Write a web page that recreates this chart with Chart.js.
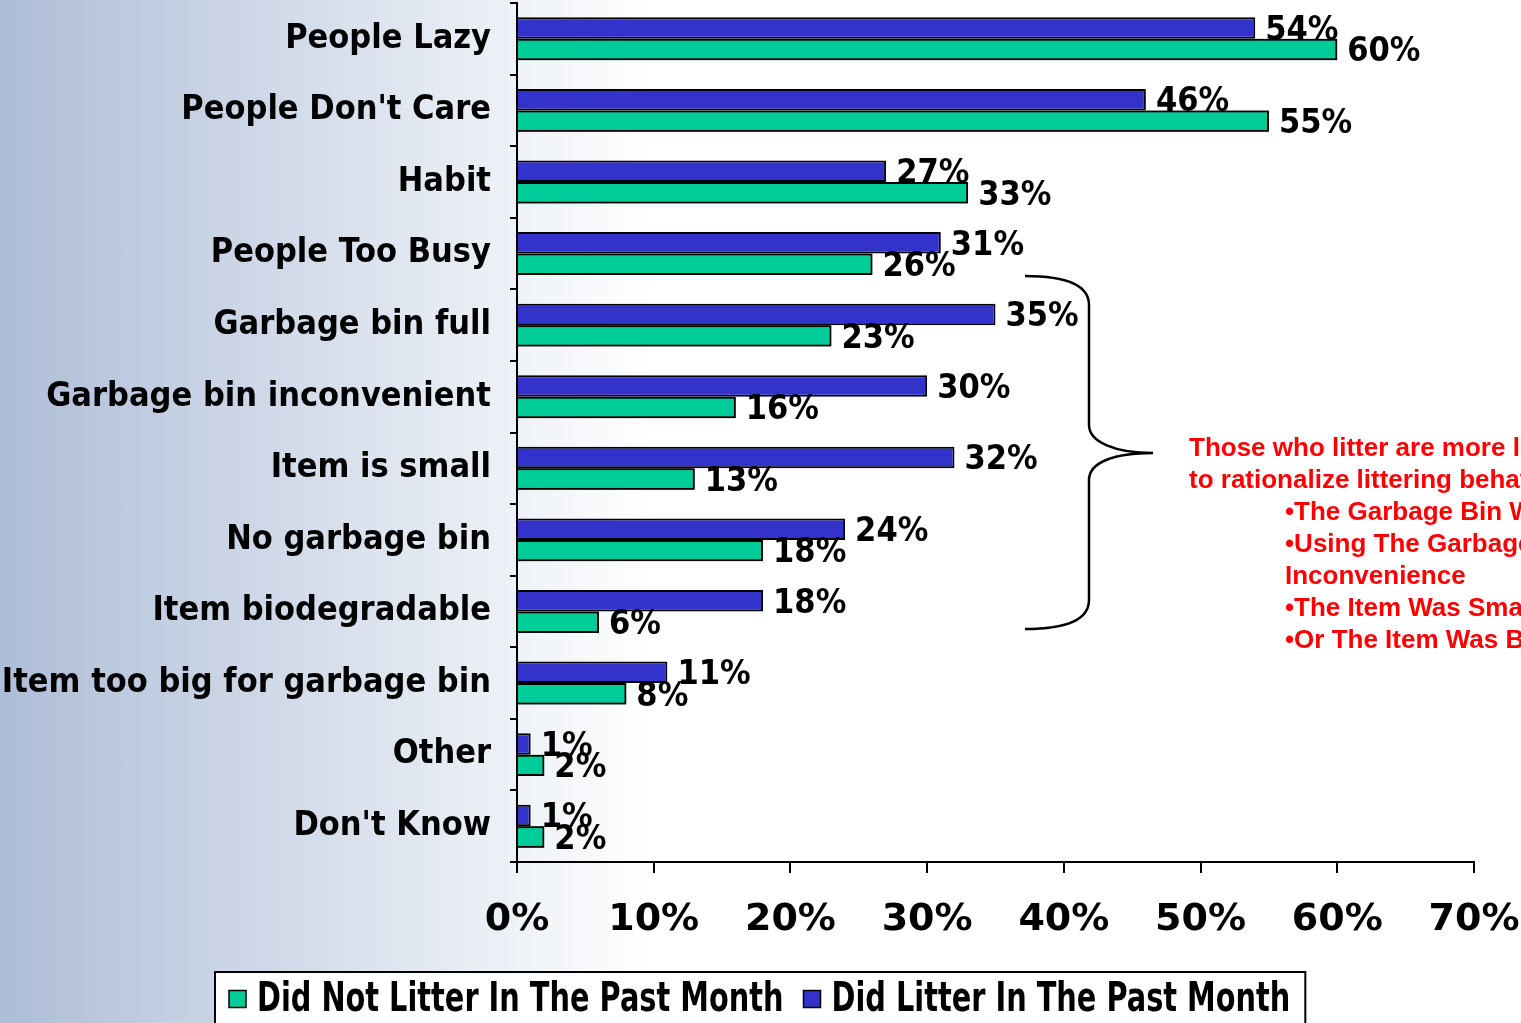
<!DOCTYPE html>
<html lang="en">

<head>
    <meta charset="UTF-8">
    <title>Reasons for Littering</title>
    <script src="https://cdn.jsdelivr.net/npm/chart.js"></script>
    <style>
        body {
            margin: 0;
            background: linear-gradient(to right, #aebdd7 0px, #dde4ef 380px, #ffffff 650px);
        }
        .chart-container {
            position: relative;
            width: 1521px;
            height: 1023px;
        }
    </style>
</head>

<body>
<div class="chart-container">
    <canvas id="chart"></canvas>
</div>
<script>
    // categories top to bottom
    const reasons = [
        "People Lazy",
        "People Don't Care",
        "Habit",
        "People Too Busy",
        "Garbage bin full",
        "Garbage bin inconvenient",
        "Item is small",
        "No garbage bin",
        "Item biodegradable",
        "Item too big for garbage bin",
        "Other",
        "Don't Know"
    ];
    const didLitter = [54, 46, 27, 31, 35, 30, 32, 24, 18, 11, 1, 1];
    const didNotLitter = [60, 55, 33, 26, 23, 16, 13, 18, 6, 8, 2, 2];
    const xTicks = [0, 10, 20, 30, 40, 50, 60, 70];

    const noteLines = [
        "Those who litter are more likely",
        "to rationalize littering behavior:",
        "\u2022The Garbage Bin Was Full",
        "\u2022Using The Garbage Bin Was An",
        "Inconvenience",
        "\u2022The Item Was Small",
        "\u2022Or The Item Was Biodegradable"
    ];
    const noteIndent = [false, false, true, true, true, true, true];

    const FONT = "'DejaVu Sans', Verdana, sans-serif";
    const NARROW = "'DejaVu Sans Condensed', 'DejaVu Sans', sans-serif";
    Chart.defaults.font.family = FONT;
    Chart.defaults.color = '#000';

    // value labels; green bars are redrawn over the blue labels like the original
    const valueLabels = {
        id: 'valueLabels',
        afterDatasetsDraw(chart) {
            const ctx = chart.ctx;
            ctx.save();
            ctx.font = "bold 34px " + NARROW;
            ctx.fillStyle = '#000';
            ctx.textAlign = 'left';
            ctx.textBaseline = 'middle';
            [0, 1].forEach(di => {
                const meta = chart.getDatasetMeta(di);
                if (di === 1) {
                    meta.data.forEach(bar => bar.draw(ctx));
                }
                meta.data.forEach((bar, i) => {
                    ctx.fillText(chart.data.datasets[di].data[i] + '%', bar.x + 10, bar.y + 3);
                });
            });
            ctx.restore();
        }
    };

    // brace + red note
    const annotation = {
        id: 'annotation',
        afterDraw(chart) {
            const ctx = chart.ctx;
            ctx.save();
            ctx.strokeStyle = '#000';
            ctx.lineWidth = 2.5;
            ctx.beginPath();
            ctx.moveTo(1025, 276);
            ctx.bezierCurveTo(1065, 276, 1089, 285, 1089, 305);
            ctx.lineTo(1089, 425);
            ctx.bezierCurveTo(1089, 442, 1115, 453, 1153, 453);
            ctx.bezierCurveTo(1115, 453, 1089, 462, 1089, 480);
            ctx.lineTo(1089, 600);
            ctx.bezierCurveTo(1089, 620, 1065, 629, 1025, 629);
            ctx.stroke();

            ctx.fillStyle = '#ff0000';
            ctx.font = "bold 26px 'Liberation Sans', Arial, sans-serif";
            ctx.textAlign = 'left';
            ctx.textBaseline = 'middle';
            noteLines.forEach((line, i) => {
                ctx.fillText(line, noteIndent[i] ? 1285 : 1189, 449 + i * 32);
            });
            ctx.restore();
        }
    };

    // boxed legend at the bottom, condensed text
    const boxLegend = {
        id: 'boxLegend',
        afterDraw(chart) {
            const ctx = chart.ctx;
            const squeeze = 0.72;
            const box = 17;
            const items = [1, 0].map(di => chart.data.datasets[di]);
            ctx.save();
            ctx.font = "bold 40px " + FONT;
            const widths = items.map(ds => ctx.measureText(ds.label).width * squeeze);
            const total = 14 + items.length * (box + 11) + widths[0] + widths[1] + 20 + 15;
            const left = Math.round((chart.width - total) / 2);
            const top = 972, h = 52, cy = 999;
            ctx.fillStyle = '#fff';
            ctx.fillRect(left, top, total, h);
            ctx.strokeStyle = '#000';
            ctx.lineWidth = 2;
            ctx.strokeRect(left, top, total, h);

            let x = left + 14;
            items.forEach((ds, i) => {
                ctx.fillStyle = ds.backgroundColor;
                ctx.fillRect(x, cy - box / 2, box, box);
                ctx.lineWidth = 1.5;
                ctx.strokeRect(x, cy - box / 2, box, box);
                x += box + 11;
                ctx.save();
                ctx.translate(x, cy + 2);
                ctx.scale(squeeze, 1);
                ctx.fillStyle = '#000';
                ctx.textBaseline = 'middle';
                ctx.fillText(ds.label, 0, 0);
                ctx.restore();
                x += widths[i] + 20;
            });
            ctx.restore();
        }
    };

    new Chart(document.getElementById('chart').getContext('2d'), {
        type: 'bar',
        data: {
            labels: reasons,
            datasets: [
                {
                    label: 'Did Litter In The Past Month',
                    data: didLitter,
                    backgroundColor: '#3333cc',
                    borderColor: '#000',
                    borderWidth: 2
                },
                {
                    label: 'Did Not Litter In The Past Month',
                    data: didNotLitter,
                    backgroundColor: '#00cc99',
                    borderColor: '#000',
                    borderWidth: 2
                }
            ]
        },
        options: {
            indexAxis: 'y',
            responsive: true,
            maintainAspectRatio: false,
            animation: false,
            datasets: {
                bar: {
                    categoryPercentage: 0.6,
                    barPercentage: 1.0
                }
            },
            layout: {
                padding: { top: 3, right: 47, bottom: 61, left: 0 }
            },
            scales: {
                x: {
                    min: 0,
                    max: 70,
                    afterBuildTicks: scale => {
                        scale.ticks = xTicks.map(v => ({ value: v }));
                    },
                    afterFit: scale => {
                        scale.height = 100;
                        scale.paddingLeft = 0;
                        scale.paddingRight = 0;
                    },
                    grid: {
                        drawOnChartArea: false,
                        color: '#000',
                        lineWidth: 2,
                        tickLength: 11
                    },
                    border: { color: '#000', width: 2 },
                    ticks: {
                        padding: 24,
                        font: { size: 38, weight: 'bold' },
                        callback: v => v + '%'
                    }
                },
                y: {
                    afterFit: scale => {
                        scale.width = 517;
                        scale.paddingTop = 0;
                        scale.paddingBottom = 0;
                    },
                    grid: {
                        drawOnChartArea: false,
                        offset: true,
                        color: '#000',
                        lineWidth: 2,
                        tickLength: 7
                    },
                    border: { color: '#000', width: 2 },
                    ticks: {
                        autoSkip: false,
                        padding: 19,
                        font: { family: NARROW, size: 34, weight: 'bold' }
                    }
                }
            },
            plugins: {
                legend: { display: false },
                tooltip: { enabled: false }
            }
        },
        plugins: [valueLabels, annotation, boxLegend]
    });
</script>
</body>

</html>
